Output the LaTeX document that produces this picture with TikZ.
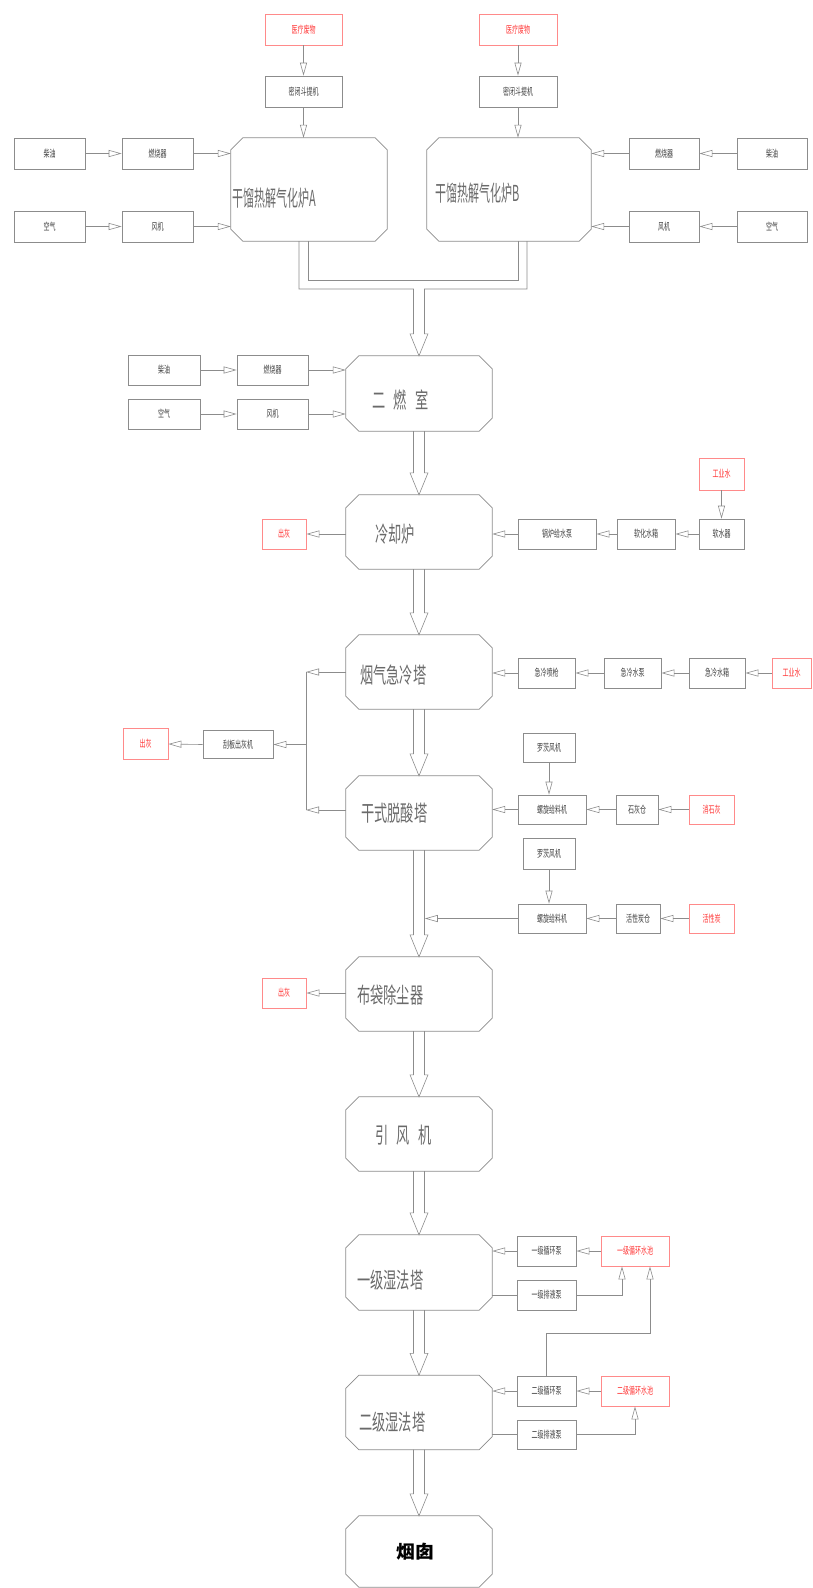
\documentclass[tikz,border=0pt]{standalone}
\usepackage{fontspec}
\usepackage{graphicx}
\newfontfamily\cjk{Noto Sans CJK SC}
\usetikzlibrary{arrows.meta,calc}
\definecolor{lg}{HTML}{8C8C8C}
\definecolor{rdl}{HTML}{FF8A8A}
\definecolor{rdt}{HTML}{FF3535}
\definecolor{tx}{HTML}{404040}
\definecolor{tc}{HTML}{6A6A6A}
\newcommand\st[1]{\scalebox{0.6}[1]{\cjk\fontsize{10}{11}\selectfont #1}}
\newcommand\bt[1]{\scalebox{0.6}[1]{\cjk\fontsize{22}{24}\selectfont #1}}
\newcommand\gt[1]{\scalebox{0.5}[1]{\cjk\fontsize{22}{24}\selectfont #1}}
\newcommand\octo[2]{%
  \draw[outline] ([xshift=#2pt]#1.north west) -- ([xshift=-#2pt]#1.north east)
   -- ([yshift=-#2pt]#1.north east) -- ([yshift=#2pt]#1.south east)
   -- ([xshift=-#2pt]#1.south east) -- ([xshift=#2pt]#1.south west)
   -- ([yshift=#2pt]#1.south west) -- ([yshift=-#2pt]#1.north west) -- cycle;}
% pipe with hollow arrow head from node #1 (bottom) to node #2 (top)
\newcommand\pipeto[2]{%
  \draw[plain] ([xshift=-5.5pt]#1.south) -- ([xshift=-5.5pt,yshift=22pt]#2.north)
    -- ([xshift=-9pt,yshift=22pt]#2.north) -- (#2.north)
    -- ([xshift=9pt,yshift=22pt]#2.north) -- ([xshift=5.5pt,yshift=22pt]#2.north)
    -- ([xshift=5.5pt]#1.south);}
\begin{document}
\begin{tikzpicture}[x=1pt,y=-1pt,
  box/.style={draw=lg, line width=0.7pt, inner sep=0pt, text=tx, minimum height=30pt},
  redbox/.style={box, draw=rdl, text=rdt},
  hold/.style={inner sep=0pt, minimum width=146pt, minimum height=74pt},
  outline/.style={draw=lg, line width=0.8pt},
  ctext/.style={anchor=west, inner sep=0pt, text=tc},
  flow/.style={draw=lg, line width=0.6pt, -{Triangle[open,length=13pt,width=7pt]}},
  plain/.style={draw=lg, line width=0.6pt, line join=miter}]
\fill[white] (0,0) rectangle (812,1588);
\useasboundingbox (0,0) rectangle (812,1588);

% ---------- top: gasifier A ----------
\node[redbox, minimum width=77pt, minimum height=31pt] (wA) at (303.5,29.5) {\st{医疗废物}};
\node[box, minimum width=77pt, minimum height=31pt] (lA) at (303.5,91.5) {\st{密闭斗提机}};
\node[hold, minimum width=156pt, minimum height=103pt] (gA) at (309,189.5) {};
\node[box, minimum width=71pt, minimum height=31pt] (dA) at (49.5,153.5) {\st{柴油}};
\node[box, minimum width=71pt, minimum height=31pt] (bA) at (157.5,153.5) {\st{燃烧器}};
\node[box, minimum width=71pt, minimum height=31pt] (aA) at (49.5,226.5) {\st{空气}};
\node[box, minimum width=71pt, minimum height=31pt] (fA) at (157.5,226.5) {\st{风机}};
\draw[flow] (wA.south) -- (lA.north);
\draw[flow] (lA.south) -- (lA.south |- gA.north);
\draw[flow] (dA.east) -- (bA.west);
\draw[flow] (bA.east) -- (gA.west |- bA.east);
\draw[flow] (aA.east) -- (fA.west);
\draw[flow] (fA.east) -- (gA.west |- fA.east);

% ---------- top: gasifier B ----------
\node[redbox, minimum width=78pt, minimum height=31pt] (wB) at (518,29.5) {\st{医疗废物}};
\node[box, minimum width=78pt, minimum height=31pt] (lB) at (518,91.5) {\st{密闭斗提机}};
\node[hold, minimum width=164pt, minimum height=103pt] (gB) at (509,189.5) {};
\node[box, minimum width=70pt, minimum height=31pt] (bB) at (664,153.5) {\st{燃烧器}};
\node[box, minimum width=70pt, minimum height=31pt] (dB) at (772,153.5) {\st{柴油}};
\node[box, minimum width=70pt, minimum height=31pt] (fB) at (664,226.5) {\st{风机}};
\node[box, minimum width=70pt, minimum height=31pt] (aB) at (772,226.5) {\st{空气}};
\draw[flow] (wB.south) -- (lB.north);
\draw[flow] (lB.south) -- (lB.south |- gB.north);
\draw[flow] (dB.west) -- (bB.east);
\draw[flow] (bB.west) -- (gB.east |- bB.west);
\draw[flow] (aB.west) -- (fB.east);
\draw[flow] (fB.west) -- (gB.east |- fB.west);

% ---------- chambers ----------
\node[hold, minimum height=75pt] (c2) at (419,393.5) {};
\node[hold] (c3) at (419,532) {};
\node[hold] (c4) at (419,672) {};
\node[hold] (c5) at (419,813) {};
\node[hold] (c6) at (419,994) {};
\node[hold] (c7) at (419,1134) {};
\node[hold, minimum height=75pt] (c8) at (419,1272.5) {};
\node[hold] (c9) at (419,1412.5) {};
\node[hold, minimum height=71pt] (c10) at (419,1551.5) {};

% ---------- merge pipes ----------
\coordinate (pAo) at (299,241);
\coordinate (pAi) at (308,241);
\coordinate (pBi) at (518,241);
\coordinate (pBo) at (527,241);
\draw[plain] (pAi) -- (308,280) -- (518,280) -- (pBi);
\draw[plain] (pAo) -- (299,289) -- (413.5,289) -- ([xshift=-5.5pt,yshift=22pt]c2.north)
  -- ([xshift=-9pt,yshift=22pt]c2.north) -- (c2.north)
  -- ([xshift=9pt,yshift=22pt]c2.north) -- ([xshift=5.5pt,yshift=22pt]c2.north)
  -- (424.5,289) -- (527,289) -- (pBo);

% ---------- pipes between chambers ----------
\pipeto{c2}{c3}
\pipeto{c3}{c4}
\pipeto{c4}{c5}
\pipeto{c5}{c6}
\pipeto{c6}{c7}
\pipeto{c7}{c8}
\pipeto{c8}{c9}
\pipeto{c9}{c10}

% ---------- outlines ----------
\octo{gA}{12}
\octo{gB}{12}
\foreach \c in {c2,c3,c4,c5,c6,c7,c8,c9,c10}{\octo{\c}{13}}

% ---------- chamber texts ----------
\node[ctext] (gAt) at (232,198) {\gt{干馏热解气化炉A}};
\node[ctext] (gBt) at (435,193) {\gt{干馏热解气化炉B}};
\node[ctext] (c2t) at (372,400) {\bt{二\hspace{14pt}燃\hspace{14pt}室}};
\node[ctext] (c3t) at (375,534) {\bt{冷却炉}};
\node[ctext] (c4t) at (360,675) {\bt{烟气急冷塔}};
\node[ctext] (c5t) at (361,813) {\bt{干式脱酸塔}};
\node[ctext] (c6t) at (357,995) {\bt{布袋除尘器}};
\node[ctext] (c7t) at (375,1135) {\bt{引\hspace{14pt}风\hspace{14pt}机}};
\node[ctext] (c8t) at (357,1280) {\bt{一级湿法塔}};
\node[ctext] (c9t) at (359,1422) {\bt{二级湿法塔}};
\node[inner sep=0pt, text=black] (c10t) at (415,1552) {\scalebox{1.05}[1]{\cjk\bfseries\fontsize{18}{20}\selectfont 烟囱}};

% ---------- secondary combustion inputs ----------
\node[box, minimum width=72pt] (dC) at (164,370) {\st{柴油}};
\node[box, minimum width=71pt] (bC) at (272.5,370) {\st{燃烧器}};
\node[box, minimum width=72pt] (aC) at (164,414) {\st{空气}};
\node[box, minimum width=71pt] (fC) at (272.5,414) {\st{风机}};
\draw[flow] (dC.east) -- (bC.west);
\draw[flow] (bC.east) -- (c2.west |- bC.east);
\draw[flow] (aC.east) -- (fC.west);
\draw[flow] (fC.east) -- (c2.west |- fC.east);

% ---------- cooling furnace ----------
\node[redbox, minimum width=44pt] (ashA) at (284,534) {\st{出灰}};
\node[box, minimum width=78pt] (pumpB) at (557,534) {\st{锅炉给水泵}};
\node[box, minimum width=58pt] (tankS) at (646,534) {\st{软化水箱}};
\node[box, minimum width=45pt] (soft) at (721.5,534) {\st{软水器}};
\node[redbox, minimum width=45pt, minimum height=32pt] (water1) at (721.5,474) {\st{工业水}};
\draw[flow] (water1.south) -- (soft.north);
\draw[flow] (soft.west) -- (tankS.east);
\draw[flow] (tankS.west) -- (pumpB.east);
\draw[flow] (pumpB.west) -- (c3.east |- pumpB.west);
\draw[flow] (c3.west |- ashA.east) -- (ashA.east);

% ---------- quench tower ----------
\node[box, minimum width=57pt] (noz) at (546.5,673) {\st{急冷喷枪}};
\node[box, minimum width=57pt] (qpump) at (632.5,673) {\st{急冷水泵}};
\node[box, minimum width=56pt] (qtank) at (717,673) {\st{急冷水箱}};
\node[redbox, minimum width=39pt] (water2) at (791.5,673) {\st{工业水}};
\draw[flow] (water2.west) -- (qtank.east);
\draw[flow] (qtank.west) -- (qpump.east);
\draw[flow] (qpump.west) -- (noz.east);
\draw[flow] (noz.west) -- (c4.east |- noz.west);

% ---------- ash collector ----------
\coordinate (colT) at (306,672);
\coordinate (colM) at (306,744.5);
\coordinate (colB) at (306,810);
\node[box, minimum width=70pt, minimum height=28pt] (scr) at (238,744.5) {\st{刮板出灰机}};
\node[redbox, minimum width=45pt, minimum height=31pt] (ashB) at (145.5,744) {\st{出灰}};
\draw[flow] (c4.west) -- (colT);
\draw[flow] (c5.west |- colB) -- (colB);
\draw[plain] (colT) -- (colB);
\draw[flow] (colM) -- (scr.east);
\draw[flow] (scr.west) -- (ashB.east);

% ---------- dry deacidification ----------
\node[box, minimum width=52pt, minimum height=29pt] (roots1) at (549,747.5) {\st{罗茨风机}};
\node[box, minimum width=68pt, minimum height=29pt] (screw1) at (552,809.5) {\st{螺旋给料机}};
\node[box, minimum width=42pt, minimum height=29pt] (limeBin) at (637,809.5) {\st{石灰仓}};
\node[redbox, minimum width=45pt, minimum height=29pt] (lime) at (711.5,809.5) {\st{消石灰}};
\draw[flow] (roots1.south) -- (roots1.south |- screw1.north);
\draw[flow] (lime.west) -- (limeBin.east);
\draw[flow] (limeBin.west) -- (screw1.east);
\draw[flow] (screw1.west) -- (c5.east |- screw1.west);

% ---------- activated carbon ----------
\node[box, minimum width=52pt, minimum height=31pt] (roots2) at (549,853.5) {\st{罗茨风机}};
\node[box, minimum width=68pt, minimum height=29pt] (screw2) at (552,918.5) {\st{螺旋给料机}};
\node[box, minimum width=44pt, minimum height=29pt] (cBin) at (638,918.5) {\st{活性炭仓}};
\node[redbox, minimum width=45pt, minimum height=29pt] (carb) at (711.5,918.5) {\st{活性炭}};
\coordinate (pipeR) at (424.8,918.5);
\draw[flow] (roots2.south) -- (roots2.south |- screw2.north);
\draw[flow] (carb.west) -- (cBin.east);
\draw[flow] (cBin.west) -- (screw2.east);
\draw[flow] (screw2.west) -- (pipeR);

% ---------- bag filter ----------
\node[redbox, minimum width=44pt] (ashC) at (284,993) {\st{出灰}};
\draw[flow] (c6.west |- ashC.east) -- (ashC.east);

% ---------- wet towers ----------
\node[box, minimum width=59pt] (cp1) at (546.5,1251) {\st{一级循环泵}};
\node[box, minimum width=59pt] (dp1) at (546.5,1295) {\st{一级排液泵}};
\node[redbox, minimum width=68pt] (tank1) at (635,1251) {\st{一级循环水池}};
\node[box, minimum width=59pt] (cp2) at (546.5,1391) {\st{二级循环泵}};
\node[box, minimum width=59pt, minimum height=29pt] (dp2) at (546.5,1434.5) {\st{二级排液泵}};
\node[redbox, minimum width=68pt] (tank2) at (635,1391) {\st{二级循环水池}};
\draw[flow] (tank1.west) -- (cp1.east);
\draw[flow] (cp1.west) -- (c8.east |- cp1.west);
\draw[plain] (c8.east |- dp1.west) -- (dp1.west);
\draw[flow] (dp1.east) -| ($(tank1.south)+(-13,0)$);
\draw[flow] (cp2.north) |- ($(tank1.south)+(15,67)$) -- ($(tank1.south)+(15,0)$);
\draw[flow] (tank2.west) -- (cp2.east);
\draw[flow] (cp2.west) -- (c9.east |- cp2.west);
\draw[plain] (c9.east |- dp2.west) -- (dp2.west);
\draw[flow] (dp2.east) -| (tank2.south);
\end{tikzpicture}
\end{document}
